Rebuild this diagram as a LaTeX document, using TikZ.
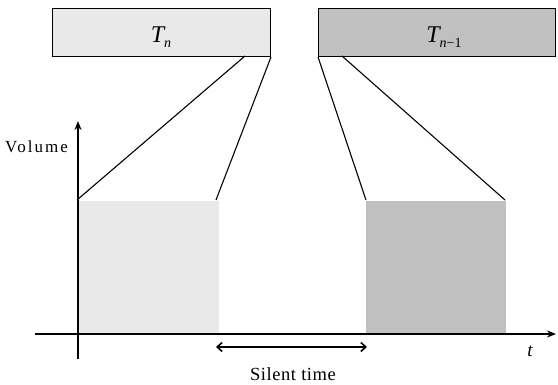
\documentclass[tikz,border=0pt]{standalone}
\usepackage{fontspec}
\setmainfont{Liberation Serif}
\usetikzlibrary{arrows.meta}
\definecolor{lightfill}{HTML}{E9E9E9}
\definecolor{darkfill}{HTML}{C0C0C0}
\tikzset{
  tbox/.style={draw=black, line width=1pt, minimum width=#1, minimum height=48pt, inner sep=0pt, anchor=north west},
  zoomline/.style={line width=1.1pt},
  axis/.style={line width=1.8pt, -{Stealth[length=9pt,width=7pt]}},
  lbl/.style={inner sep=0pt, anchor=base},
}
\begin{document}
\begin{tikzpicture}[x=1pt,y=-1pt]
\useasboundingbox (0,0) rectangle (558,385);
% blocks on the time axis
\fill[lightfill] (78,201) rectangle (219,334);
\fill[darkfill] (366,201) rectangle (506,334);
% top boxes
\node[tbox=218pt, fill=lightfill] (tn) at (52,8) {};
\node[tbox=237pt, fill=darkfill] (tn1) at (318,8) {};
\node[lbl, font=\fontsize{24}{24}\selectfont] (tnl) at (161,43) {\itshape T\raisebox{-5pt}{\fontsize{14}{14}\selectfont\itshape n}};
\node[lbl, font=\fontsize{24}{24}\selectfont] (tn1l) at (444,43) {\itshape T\raisebox{-5pt}{\fontsize{14}{14}\selectfont\itshape n\upshape−1}};
% connector coordinates
\coordinate (a1) at (245,56);
\coordinate (a2) at (77,200);
\coordinate (b2) at (216,200);
\coordinate (c2) at (366,200);
\coordinate (d1) at (342,56);
\coordinate (d2) at (505,200);
\draw[zoomline] (a1) -- (a2);
\draw[zoomline] (tn.south east) -- (b2);
\draw[zoomline] (tn1.south west) -- (c2);
\draw[zoomline] (d1) -- (d2);
% axes
\coordinate (xs) at (35,334);
\coordinate (xe) at (556,334);
\coordinate (ys) at (78,359);
\coordinate (ye) at (78,121);
\draw[axis] (xs) -- (xe);
\draw[axis] (ys) -- (ye);
% silent time arrow
\coordinate (s1) at (216,347);
\coordinate (s2) at (367,347);
\draw[line width=1.6pt, {Straight Barb[length=5pt,width=9pt]}-{Straight Barb[length=5pt,width=9pt]}] (s1) -- (s2);
% labels
\node[inner sep=0pt, anchor=base west, font=\fontsize{17}{17}\selectfont\addfontfeature{LetterSpace=12}] (vol) at (5,153) {Volume};
\node[lbl, font=\fontsize{19}{19}\selectfont] (tl) at (530,356) {\itshape t};
\node[lbl, font=\fontsize{18.5}{18.5}\selectfont\addfontfeature{LetterSpace=3}] (sil) at (293,381) {Silent time};
\end{tikzpicture}
\end{document}
